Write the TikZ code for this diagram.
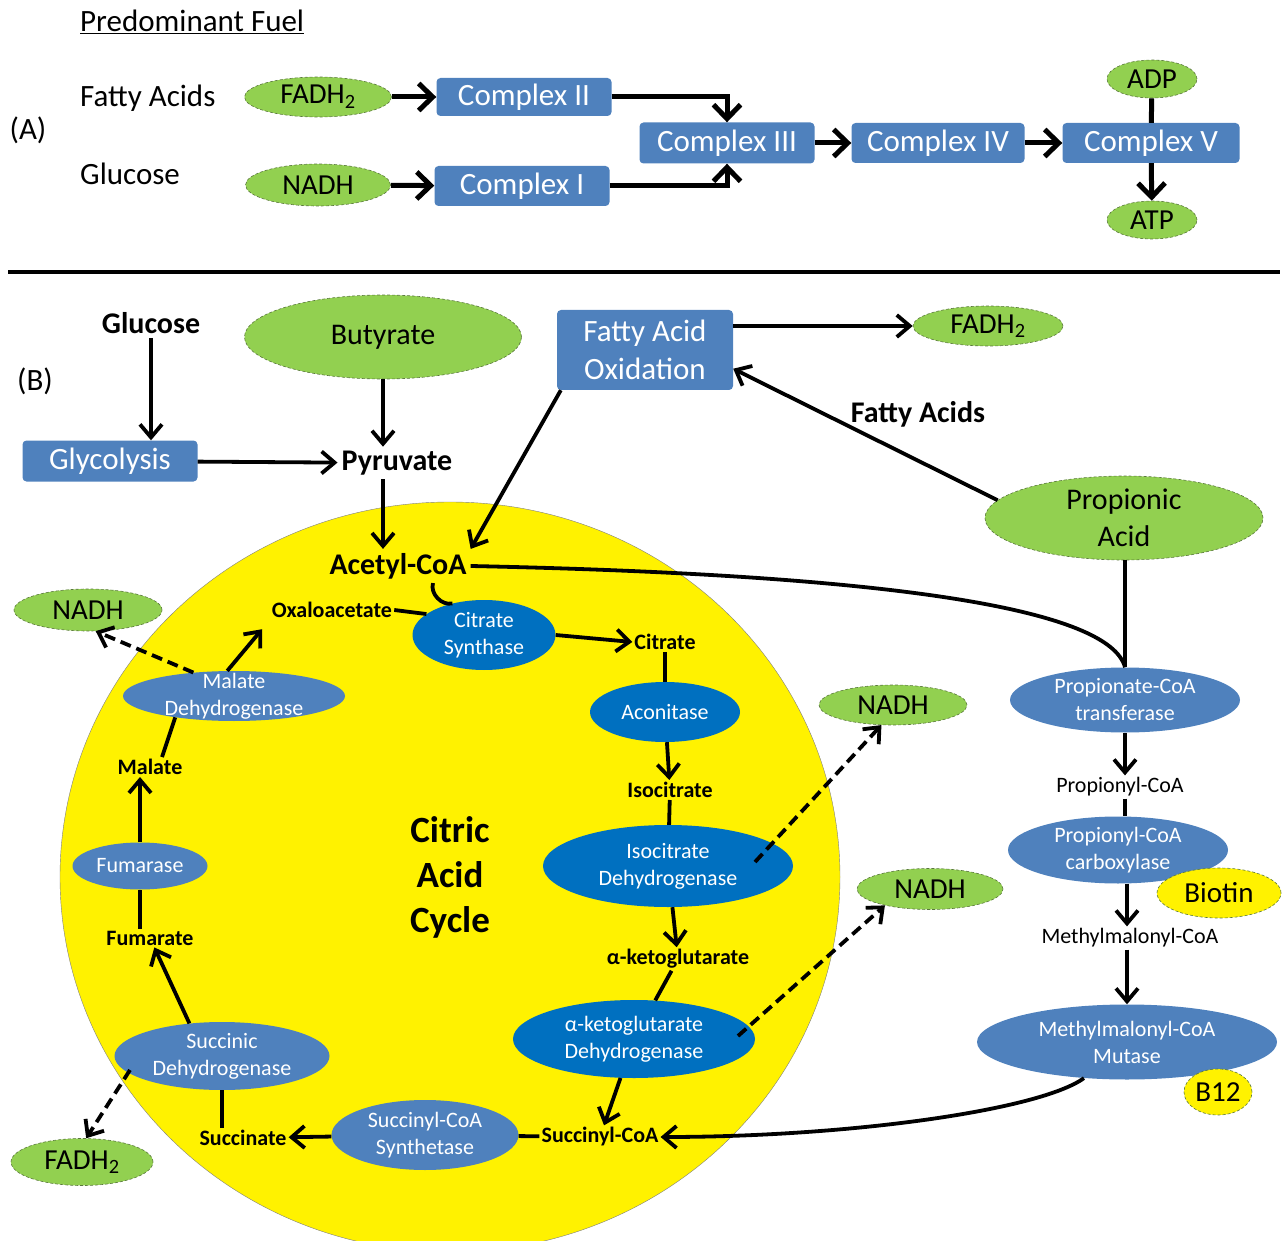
\documentclass[tikz,border=0pt]{standalone}
\usepackage{fontspec}
\setmainfont{Carlito}
\usetikzlibrary{arrows.meta,shapes.geometric}
\definecolor{leafgreen}{RGB}{146,208,80}
\definecolor{leafedge}{RGB}{90,120,60}
\definecolor{boxblue}{RGB}{79,129,189}
\definecolor{deepblue}{RGB}{0,112,192}

\begin{document}
\begin{tikzpicture}[x=1pt, y=-1pt,
	fuel/.style={shape=ellipse, fill=leafgreen, draw=leafedge, densely dashed, line width=0.6pt, inner xsep=0pt, inner ysep=-6pt, align=center, font=\fontsize{29}{35}\selectfont},
	bigfuel/.style={fuel, font=\fontsize{30}{37}\selectfont},
	cof/.style={fuel, fill=yellow},
	cplx/.style={shape=rectangle, rounded corners=4pt, fill=boxblue, text=white, inner sep=0pt, align=center, font=\fontsize{31}{38}\selectfont},
	enz/.style={shape=ellipse, fill=boxblue, text=white, inner xsep=0pt, inner ysep=-14pt, align=center, font=\fontsize{22}{27}\selectfont},
	enzd/.style={enz, fill=deepblue},
	met/.style={inner sep=2pt, font=\bfseries\fontsize{22}{27}\selectfont},
	bigmet/.style={inner sep=4pt, font=\bfseries\fontsize{30}{36}\selectfont},
	inter/.style={inner sep=2pt, font=\fontsize{22}{27}\selectfont},
	lbl/.style={inner sep=1pt, font=\fontsize{31}{38}\selectfont},
	link/.style={line width=3.8pt},
	flow/.style={link, -{Straight Barb[length=13pt,width=22pt]}},
	release/.style={flow, dash pattern=on 11pt off 6pt},
	etc/.style={line width=5pt, -{Straight Barb[length=14pt,width=27pt]}}]
	\useasboundingbox (0,0) rectangle (1286,1241);
	\clip (0,0) rectangle (1286,1241);
	\node[lbl, anchor=west] (title) at (79,22) {\underline{Predominant Fuel}};
	\node[lbl, anchor=west] (fattyA) at (79,98) {Fatty Acids};
	\node[lbl] (panelA) at (28,130) {(A)};
	\node[lbl, anchor=west] (glucA) at (79,174) {Glucose};
	\node[fuel, minimum width=147pt, minimum height=40pt] (fadhA) at (318,97) {FADH\textsubscript{2}};
	\node[fuel, minimum width=145pt, minimum height=42pt] (nadhA) at (318,185) {NADH};
	\node[cplx, minimum width=175pt, minimum height=38pt] (cII) at (524,97) {Complex II};
	\node[cplx, minimum width=175pt, minimum height=40pt] (cI) at (522,186) {Complex I};
	\node[cplx, minimum width=175pt, minimum height=41pt] (cIII) at (727,143) {Complex III};
	\node[cplx, minimum width=173pt, minimum height=40pt] (cIV) at (938,143) {Complex IV};
	\node[cplx, minimum width=177pt, minimum height=40pt] (cV) at (1151,143) {Complex V};
	\node[fuel, minimum width=90pt, minimum height=38pt] (adp) at (1152,79) {ADP};
	\node[fuel, minimum width=90pt, minimum height=38pt] (atp) at (1152,220) {ATP};
	\draw[etc] (fadhA) -- (cII);
	\draw[etc] (nadhA) -- (cI);
	\draw[etc] (cII.east) -| (cIII);
	\draw[etc] (cI.east) -| (cIII);
	\draw[etc] (cIII) -- (cIV);
	\draw[etc] (cIV) -- (cV);
	\draw[line width=5pt] (adp) -- (cV);
	\draw[etc] (cV) -- (atp);
	\draw[line width=4pt] (8,272) -- (1280,272);
	\node[shape=ellipse, fill=yellow, draw=black!50, line width=0.4pt, minimum width=780pt, minimum height=750pt, inner sep=0pt, align=center, font=\bfseries\fontsize{37}{45}\selectfont] (tca) at (450,877) {Citric\\Acid\\Cycle};
	\node[lbl] (panelB) at (35,381) {(B)};
	\node[bigmet] (gluB) at (151,323) {Glucose};
	\node[cplx, minimum width=175pt, minimum height=41pt] (glyco) at (110,461) {Glycolysis};
	\node[bigfuel, minimum width=277pt, minimum height=84pt] (buty) at (383,337) {Butyrate};
	\node[bigmet] (pyr) at (397,463) {Pyruvate};
	\node[bigmet] (acetyl) at (398,566) {Acetyl-CoA};
	\node[cplx, minimum width=176pt, minimum height=80pt] (fao) at (645,350) {Fatty Acid\\Oxidation};
	\node[fuel, minimum width=150pt, minimum height=40pt] (fadhB) at (988,326) {FADH\textsubscript{2}};
	\node[bigfuel, minimum width=278pt, minimum height=84pt] (prop) at (1124,518) {Propionic\\Acid};
	\node[bigmet] (fattyB) at (918,414) {Fatty Acids};
	\node[enzd, minimum width=143pt, minimum height=70pt] (cs) at (484,635) {Citrate\\Synthase};
	\node[met] (oxalo) at (332,610) {Oxaloacetate};
	\node[met] (citrate) at (665,642) {Citrate};
	\node[enzd, minimum width=150pt, minimum height=60pt] (acon) at (665,712) {Aconitase};
	\node[met] (isocit) at (670,790) {Isocitrate};
	\node[enzd, minimum width=250pt, minimum height=82pt] (icdh) at (668,866) {Isocitrate\\Dehydrogenase};
	\node[fuel, minimum width=148pt, minimum height=40pt] (nadhB1) at (893,705) {NADH};
	\node[met] (akg) at (678,959) {α-ketoglutarate};
	\node[enzd, minimum width=242pt, minimum height=78pt] (akgdh) at (634,1039) {α-ketoglutarate\\Dehydrogenase};
	\node[fuel, minimum width=146pt, minimum height=41pt] (nadhB2) at (930,889) {NADH};
	\node[met] (succoa) at (600,1137) {Succinyl-CoA};
	\node[enz, minimum width=187pt, minimum height=70pt] (scs) at (425,1135) {Succinyl-CoA\\Synthetase};
	\node[met] (succ) at (243,1138) {Succinate};
	\node[enz, minimum width=215pt, minimum height=68pt] (sdh) at (222,1056) {Succinic\\Dehydrogenase};
	\node[fuel, minimum width=142pt, minimum height=47pt] (fadhC) at (82,1162) {FADH\textsubscript{2}};
	\node[met] (fum) at (150,938) {Fumarate};
	\node[enz, minimum width=135pt, minimum height=47pt] (fumase) at (140,866) {Fumarase};
	\node[met] (mal) at (150,767) {Malate};
	\node[enz, minimum width=222pt, minimum height=50pt] (mdh) at (234,696) {Malate\\Dehydrogenase};
	\node[fuel, minimum width=148pt, minimum height=42pt] (nadhB3) at (88,610) {NADH};
	\node[enz, minimum width=230pt, minimum height=65pt] (pct) at (1125,700) {Propionate-CoA\\transferase};
	\node[inter] (propcoa) at (1120,787) {Propionyl-CoA};
	\node[enz, minimum width=220pt, minimum height=67pt] (pcc) at (1118,850) {Propionyl-CoA\\carboxylase};
	\node[cof, minimum width=124pt, minimum height=50pt] (biotin) at (1219,893) {Biotin};
	\node[inter] (mmcoa) at (1130,938) {Methylmalonyl-CoA};
	\node[enz, minimum width=300pt, minimum height=75pt] (mcm) at (1127,1042) {Methylmalonyl-CoA\\Mutase};
	\node[cof, minimum width=68pt, minimum height=46pt] (b12) at (1218,1092) {B12};
	\draw[flow] (gluB) -- (gluB |- glyco.north);
	\draw[flow] (buty) -- (buty |- pyr.north);
	\draw[flow] (glyco) -- (pyr);
	\draw[flow] (pyr.south -| buty) -- (acetyl.north -| buty);
	\draw[flow] ([xshift=4pt]fao.south west) -- (acetyl.north east);
	\draw[flow] (fadhB -| fao.east) -- (fadhB);
	\draw[flow] (prop.172) -- (fao.-12);
	\draw[link] (prop.south -| pct) -- (pct);
	\draw[link] (acetyl.east) .. controls (900,575) and (1110,610) .. (pct.north);
	\draw[link] ([xshift=35pt]acetyl.south) to[bend right=60] (cs.135);
	\draw[link] (oxalo.east) -- (cs.160);
	\draw[flow] (cs.east) -- (citrate.west);
	\draw[link] (citrate) -- (acon);
	\draw[flow] (acon) -- (isocit);
	\draw[link] (isocit) -- (icdh);
	\draw[flow] (icdh) -- (akg);
	\draw[link] (akg) -- (akgdh);
	\draw[flow] (akgdh) -- (succoa);
	\draw[release] ([xshift=87pt,yshift=4pt]icdh.center) -- (nadhB1.240);
	\draw[release] ([xshift=104pt,yshift=3pt]akgdh.center) -- (nadhB2.200);
	\draw[flow] (mcm.220) .. controls (1040,1110) and (850,1137) .. (succoa.east);
	\draw[link] (succoa) -- (scs);
	\draw[flow] (scs) -- (succ);
	\draw[link] (succ.north -| sdh) -- (sdh);
	\draw[release] ([xshift=-92pt,yshift=-14pt]sdh.center) -- (fadhC.80);
	\draw[flow] (sdh.135) -- (fum);
	\draw[link] (fum.north -| fumase) -- (fumase);
	\draw[flow] (fumase) -- (mal.south -| fumase);
	\draw[link] ([xshift=12pt]mal.north) -- (mdh.200);
	\draw[flow, shorten >=12pt] (mdh.105) -- (oxalo.south west);
	\draw[release] (mdh.150) -- (nadhB3.-70);
	\draw[flow] (pct) -- (propcoa.north -| pct);
	\draw[link] (propcoa.south -| pct) -- (pcc.north -| pct);
	\draw[flow] (pcc.south -| mcm) -- (mmcoa.north -| mcm);
	\draw[flow] (mmcoa.south -| mcm) -- (mcm);
\end{tikzpicture}
\end{document}
